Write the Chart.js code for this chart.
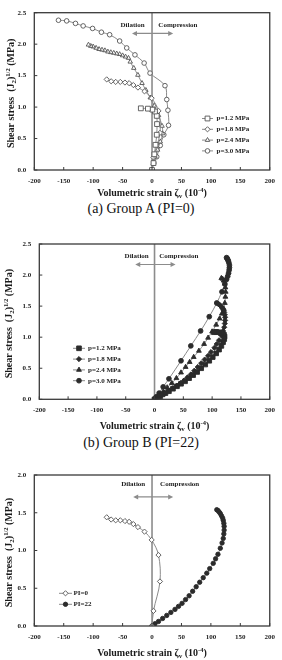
<!DOCTYPE html>
<html><head><meta charset="utf-8">
<script src="https://cdn.jsdelivr.net/npm/chart.js@4.4.0/dist/chart.umd.min.js"></script>
<style>
html,body{margin:0;padding:0;background:#fff;width:282px;height:660px;overflow:hidden;position:relative;}
canvas{position:absolute;left:0;display:block;}
.cap{position:absolute;left:0;width:282px;text-align:center;font-family:"Liberation Serif","Times New Roman",serif;font-size:14px;line-height:16px;color:#111;}
</style></head><body>
<canvas id="ca" width="282" height="200" style="top:0px"></canvas>
<div class="cap" style="top:201px">(a) Group A (PI=0)</div>
<canvas id="cb" width="282" height="205" style="top:230px"></canvas>
<div class="cap" style="top:435px">(b) Group B (PI=22)</div>
<canvas id="cc" width="282" height="200" style="top:460px"></canvas>
<script>
// ---------- DATA ----------
const xTicks = [-200,-150,-100,-50,0,50,100,150,200];
const yTicksAB = [0,0.5,1,1.5,2,2.5];
const yTicksC = [0,0.5,1,1.5,2];
const legendAB = ['p=1.2 MPa','p=1.8 MPa','p=2.4 MPa','p=3.0 MPa'];
const legendC = ['PI=0','PI=22'];

// Group A (PI=0) : [volumetric strain (1e-4), shear stress (MPa)]
const aP12 = [[0,0],[2.5,0.11],[4,0.25],[6,0.40],[8,0.56],[8.5,0.73],[8,0.86],[5,0.93],[0.5,0.96],[-7,0.975],[-19,0.98]];
const aP18 = [[0,0],[2.5,0.2],[13.5,0.59],[11,0.94],[-0.6,1.14],[-12.8,1.25],[-23.9,1.31],[-31.7,1.35],[-38.9,1.38],[-46,1.39],[-53.9,1.40],[-61.7,1.40],[-69.4,1.41],[-77,1.44]];
const aP24 = [[0,0],[2,0.1],[5,0.21],[9.5,0.32],[14,0.45],[18,0.58],[17,0.70],[11,0.87],[4,1.02],[-3,1.15],[-10.5,1.27],[-17,1.38],[-24,1.51],[-31,1.62],[-37,1.72],[-40,1.78],[-45,1.80],[-50,1.82],[-55,1.84],[-60,1.85],[-65,1.86],[-70,1.87],[-75,1.88],[-80,1.90],[-85,1.91],[-90,1.92],[-95,1.94],[-100,1.96],[-104,1.97],[-108,1.99]];
const aP30 = [[0,0],[3,0.11],[8,0.21],[14,0.39],[20,0.56],[28,0.71],[27,0.95],[25,1.12],[22,1.34],[-3.4,1.54],[-13.4,1.70],[-29,1.83],[-43,1.94],[-55,2.05],[-72,2.15],[-86,2.19],[-101,2.25],[-117,2.29],[-130,2.33],[-145,2.37],[-159,2.38]];

// Group B (PI=22)
const bP12 = [[0,0],[3,0.01],[6,0.03],[10,0.05],[14,0.08],[19,0.10],[25,0.13],[32,0.17],[39,0.21],[46,0.25],[53,0.29],[60,0.34],[67,0.39],[74,0.44],[81,0.50],[88,0.56],[95,0.62],[101,0.68],[107,0.74],[112,0.80],[116,0.86],[119,0.92],[121,0.97],[121.5,1.01],[120.5,1.04],[118,1.06],[115,1.07],[111,1.08],[107,1.085],[103,1.08]];
const bP18 = [[0,0],[5,0.03],[11,0.06],[18,0.10],[25,0.14],[32,0.18],[39,0.22],[45,0.26],[51,0.30],[57,0.35],[63,0.40],[69,0.46],[75,0.52],[81,0.58],[87,0.64],[93,0.70],[98,0.76],[104,0.83],[108,0.89],[112,0.95],[116,1.03],[119,1.10],[121,1.16],[122,1.22],[122.5,1.27],[122.5,1.32],[122,1.36],[121,1.40],[120,1.43],[118,1.46],[116,1.49],[114,1.51],[112,1.53],[110,1.54]];
const bP24 = [[0,0],[4,0.03],[9,0.07],[15,0.12],[22,0.19],[30,0.26],[38,0.34],[46,0.43],[54,0.52],[61,0.60],[68,0.68],[77,0.78],[86,0.89],[93,0.99],[100,1.09],[107,1.20],[113,1.30],[117,1.38],[120,1.46],[122,1.55],[123,1.65],[123.5,1.73],[123,1.80],[122,1.86],[120,1.91],[118,1.94],[116,1.95]];
const bP30 = [[0,0],[3,0.04],[8,0.10],[15,0.20],[25,0.33],[46,0.62],[63,0.86],[80,1.10],[95,1.33],[108,1.55],[117,1.73],[122,1.86],[125,1.93],[127,1.98],[128.5,2.03],[129.5,2.08],[130,2.12],[130,2.16],[129,2.20],[128,2.23],[127,2.25],[126,2.27],[125,2.28]];

// Comparison
const cPI0 = aP18;
const cPI22 = bP18;

// ---------- DRAWING ----------
const FONT = '"Liberation Serif","Times New Roman",serif';
const GRAYLINE = '#8a8a8a';

function ds(data, label, style, radius, filled) {
  return {
    label, data: data.map(([x,y]) => ({x,y})), showLine: true,
    borderColor: GRAYLINE, borderWidth: 1, tension: 0.35, fill: false,
    pointStyle: style, pointRadius: radius,
    pointBackgroundColor: filled ? '#2b2b2b' : '#ffffff',
    pointBorderColor: filled ? '#2b2b2b' : '#555555',
    pointBorderWidth: 0.9
  };
}
function zeroLine(ymax) {
  return { label: '', data: [{x:0,y:0},{x:0,y:ymax}], showLine: true, pointRadius: 0,
           borderColor: '#8c8c8c', borderWidth: 1.6, tension: 0, isZero: true };
}

function drawMarker(ctx, style, r, x, y, filled) {
  ctx.fillStyle = filled ? '#2b2b2b' : '#ffffff';
  ctx.strokeStyle = filled ? '#2b2b2b' : '#555555';
  ctx.lineWidth = 0.9;
  if (Chart.helpers && Chart.helpers.drawPoint) {
    Chart.helpers.drawPoint(ctx, {pointStyle: style, radius: r, borderWidth: 0.9, rotation: 0}, x, y);
    return;
  }
  ctx.beginPath(); ctx.arc(x, y, r, 0, Math.PI*2); ctx.fill(); ctx.stroke();
}

function drawRich(ctx, parts, cx, cy, base, rot) {
  ctx.save();
  ctx.translate(cx, cy);
  if (rot) ctx.rotate(rot);
  let w = 0;
  parts.forEach(p => { ctx.font = `bold ${p.s || base}px ${FONT}`; w += ctx.measureText(p.t).width; });
  let x = -w / 2;
  ctx.textAlign = 'left'; ctx.textBaseline = 'alphabetic'; ctx.fillStyle = '#1a1a1a';
  const by = base * 0.35;
  parts.forEach(p => { ctx.font = `bold ${p.s || base}px ${FONT}`; ctx.fillText(p.t, x, by + (p.dy || 0)); x += ctx.measureText(p.t).width; });
  ctx.restore();
}

const xTitle = [{t:'Volumetric strain \u03B6'},{t:'v', s:7, dy:2},{t:' (10'},{t:'-4', s:6.5, dy:-4},{t:')'}];
const yTitle = [{t:'Shear stress  (J'},{t:'2', s:7, dy:2},{t:')'},{t:'1/2', s:6.5, dy:-4},{t:' (MPa)'}];

const decor = {
  id: 'decor',
  afterDraw(chart) {
    const o = chart.options.plugins.decor;
    const ctx = chart.ctx, a = chart.chartArea, xs = chart.scales.x, ys = chart.scales.y;
    ctx.save();
    // frame
    ctx.strokeStyle = '#3a3a3a'; ctx.lineWidth = 1.3;
    ctx.strokeRect(a.left, a.top, a.right - a.left, a.bottom - a.top);
    // inward tick marks
    ctx.lineWidth = 1; ctx.strokeStyle = '#3a3a3a';
    ctx.beginPath();
    xs.ticks.forEach(t => { const px = xs.getPixelForValue(t.value); ctx.moveTo(px, a.bottom); ctx.lineTo(px, a.bottom - 3); });
    ys.ticks.forEach(t => { const py = ys.getPixelForValue(t.value); ctx.moveTo(a.left, py); ctx.lineTo(a.left + 3, py); });
    ctx.stroke();
    // arrow
    const ay = ys.getPixelForValue(o.arrowY);
    const ax0 = xs.getPixelForValue(o.arrowX[0]), ax1 = xs.getPixelForValue(o.arrowX[1]);
    ctx.strokeStyle = '#8c8c8c'; ctx.fillStyle = '#8c8c8c'; ctx.lineWidth = 1.2;
    ctx.beginPath(); ctx.moveTo(ax0 + 2, ay); ctx.lineTo(ax1 - 2, ay); ctx.stroke();
    ctx.beginPath(); ctx.moveTo(ax0, ay); ctx.lineTo(ax0 + 5, ay - 2.5); ctx.lineTo(ax0 + 5, ay + 2.5); ctx.closePath(); ctx.fill();
    ctx.beginPath(); ctx.moveTo(ax1, ay); ctx.lineTo(ax1 - 5, ay - 2.5); ctx.lineTo(ax1 - 5, ay + 2.5); ctx.closePath(); ctx.fill();
    // Dilation / Compression
    ctx.font = `bold 7px ${FONT}`; ctx.fillStyle = '#222'; ctx.textAlign = 'center'; ctx.textBaseline = 'middle';
    const ty = ys.getPixelForValue(o.textY);
    ctx.fillText('Dilation', xs.getPixelForValue(o.dilX), ty);
    ctx.fillText('Compression', xs.getPixelForValue(o.compX), ty);
    // legend
    const L = o.legend;
    let k = 0;
    chart.data.datasets.forEach(d => {
      if (d.isZero) return;
      const ly = L.y + k * L.dy;
      ctx.strokeStyle = GRAYLINE; ctx.lineWidth = 1;
      ctx.beginPath(); ctx.moveTo(L.x0, ly); ctx.lineTo(L.x1, ly); ctx.stroke();
      drawMarker(ctx, d.pointStyle, d.pointRadius, (L.x0 + L.x1) / 2, ly, d.pointBackgroundColor !== '#ffffff');
      ctx.font = `bold 7px ${FONT}`; ctx.fillStyle = '#222'; ctx.textAlign = 'left'; ctx.textBaseline = 'middle';
      ctx.fillText(d.label, L.tx, ly);
      k++;
    });
    // axis titles
    drawRich(ctx, xTitle, (a.left + a.right) / 2, o.xTitleY, 10, 0);
    drawRich(ctx, yTitle, o.yTitleX, (a.top + a.bottom) / 2 + 2, 10, -Math.PI / 2);
    ctx.restore();
  }
};

function makeChart(id, datasets, cfg) {
  const tickFont = {family: FONT, size: 7, weight: 'bold'};
  return new Chart(document.getElementById(id), {
    type: 'scatter',
    data: { datasets },
    options: {
      responsive: false, devicePixelRatio: 1, animation: false, events: [],
      layout: { padding: { top: cfg.top, right: cfg.right, left: 0, bottom: 0 } },
      plugins: { legend: { display: false }, tooltip: { enabled: false },
        decor: cfg.decor },
      scales: {
        x: { type: 'linear', min: -200, max: 200,
          afterBuildTicks: s => { s.ticks = xTicks.map(v => ({value: v})); },
          afterFit: s => { s.height = cfg.xh; },
          grid: { display: false, drawTicks: false }, border: { display: false },
          ticks: { font: tickFont, color: '#222', padding: 7, autoSkip: false, maxRotation: 0, callback: v => String(v) } },
        y: { type: 'linear', min: 0, max: cfg.ymax,
          afterBuildTicks: s => { s.ticks = cfg.yTicks.map(v => ({value: v})); },
          afterFit: s => { s.width = cfg.yw; },
          grid: { display: false, drawTicks: false }, border: { display: false },
          ticks: { font: tickFont, color: '#222', padding: 8, autoSkip: false, callback: v => Number(v).toFixed(1) } }
      }
    },
    plugins: [decor]
  });
}

makeChart('ca', [
  ds(aP12, legendAB[0], 'rect', 3.4, false),
  ds(aP18, legendAB[1], 'rectRot', 2.6, false),
  ds(aP24, legendAB[2], 'triangle', 2.6, false),
  ds(aP30, legendAB[3], 'circle', 2.3, false),
  zeroLine(2.5)
], { top: 12.7, right: 9, xh: 30, yw: 34.3, ymax: 2.5, yTicks: yTicksAB,
     decor: { arrowY: 2.17, arrowX: [-34, 36], textY: 2.30, dilX: -33, compX: 44,
              legend: { x0: 202, x1: 213, tx: 216.5, y: 118.5, dy: 10.8 },
              xTitleY: 192.5, yTitleX: 10 } });

makeChart('cb', [
  ds(bP12, legendAB[0], 'rect', 3.3, true),
  ds(bP18, legendAB[1], 'rectRot', 2.6, true),
  ds(bP24, legendAB[2], 'triangle', 2.8, true),
  ds(bP30, legendAB[3], 'circle', 2.4, true),
  zeroLine(2.5)
], { top: 14, right: 8.3, xh: 35.7, yw: 39.3, ymax: 2.5, yTicks: yTicksAB,
     decor: { arrowY: 2.17, arrowX: [-33.5, 36.5], textY: 2.30, dilX: -31, compX: 42,
              legend: { x0: 73, x1: 85, tx: 88, y: 118.3, dy: 10.8 },
              xTitleY: 195.7, yTitleX: 8.5 } });

makeChart('cc', [
  ds(cPI0, legendC[0], 'rectRot', 2.6, false),
  ds(cPI22, legendC[1], 'circle', 2.2, true),
  zeroLine(2.0)
], { top: 15, right: 7.7, xh: 34, yw: 34.3, ymax: 2.0, yTicks: yTicksC,
     decor: { arrowY: 1.71, arrowX: [-32, 36], textY: 1.88, dilX: -32, compX: 47,
              legend: { x0: 59, x1: 72, tx: 73.5, y: 133.3, dy: 11 },
              xTitleY: 192, yTitleX: 8.5 } });
</script>
</body></html>
